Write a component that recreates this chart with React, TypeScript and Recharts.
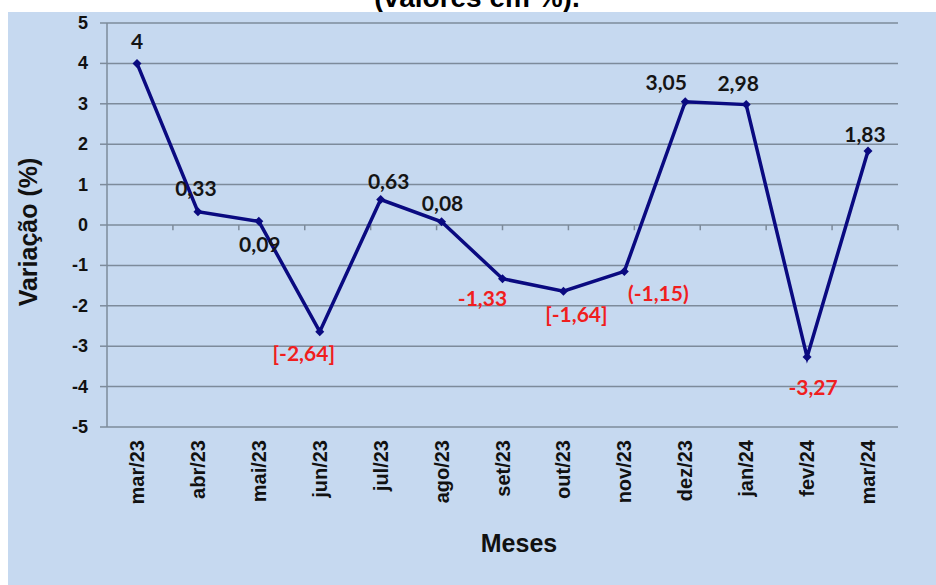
import React from 'react';
import { LineChart, Line, XAxis, YAxis, CartesianGrid, ReferenceLine, Label, LabelList } from 'recharts';

const months = ['mar/23', 'abr/23', 'mai/23', 'jun/23', 'jul/23', 'ago/23', 'set/23', 'out/23', 'nov/23', 'dez/23', 'jan/24', 'fev/24', 'mar/24'];
const values = [4, 0.33, 0.09, -2.64, 0.63, 0.08, -1.33, -1.64, -1.15, 3.05, 2.98, -3.27, 1.83];
const valueLabels = ['4', '0,33', '0,09', '[-2,64]', '0,63', '0,08', '-1,33', '[-1,64]', '(-1,15)', '3,05', '2,98', '-3,27', '1,83'];
const yTicks = [-5, -4, -3, -2, -1, 0, 1, 2, 3, 4, 5];
const boundaries = [1, 2, 3, 4, 5, 6, 7, 8, 9, 10, 11, 12];

// label placement (px offsets from the point)
const labelOffsets: [number, number][] = [
  [0, -23], [-2, -24], [1, 22], [-16, 21], [8, -19], [1, -19], [-20, 19],
  [13, 22], [34, 21], [-19, -20], [-8, -22], [6, 29], [-3, -18],
];

const data = months.map((m, i) => ({ month: m, value: values[i], label: valueLabels[i], idx: i }));

const GRID = '#7d8b9b';
const AXIS_FONT = '"Liberation Sans", Arial, sans-serif';

const Diamond = (props: any) => {
  const { cx, cy } = props;
  if (cx == null || cy == null) return null;
  const r = 4.5;
  return <polygon points={`${cx},${cy - r} ${cx + r},${cy} ${cx},${cy + r} ${cx - r},${cy}`} fill="#0a0a80" />;
};

const XTick = (props: any) => {
  const { x, y, payload } = props;
  const ty = y - 25;
  return (
    <text
      x={x}
      y={ty}
      transform={`rotate(-90, ${x}, ${ty})`}
      textAnchor="end"
      dominantBaseline="central"
      fontFamily={AXIS_FONT}
      fontWeight="bold"
      fontSize={20}
      fill="#111"
    >
      {payload.value}
    </text>
  );
};

const YTick = (props: any) => {
  const { x, y, payload } = props;
  return (
    <text x={x - 10} y={y} textAnchor="end" dominantBaseline="central" fontFamily={AXIS_FONT} fontWeight="bold" fontSize={18} fill="#111">
      {payload.value}
    </text>
  );
};

const renderValueLabel = (props: any) => {
  const { x, y, index, value } = props;
  const off = labelOffsets[index] || [0, -20];
  const neg = values[index] < 0;
  return (
    <text
      x={x + off[0]}
      y={y + off[1]}
      textAnchor="middle"
      dominantBaseline="central"
      fontFamily="Lato, 'Open Sans', sans-serif"
      fontWeight="bold"
      fontSize={21}
      fill={neg ? '#f01e1e' : '#151515'}
    >
      {value}
    </text>
  );
};

export default function App() {
  return (
    <div style={{ position: 'fixed', left: 0, top: 0, width: 936, height: 585, background: '#fff', overflow: 'hidden' }}>
      <div
        style={{
          position: 'absolute',
          left: 0,
          width: 936,
          top: -16,
          textAlign: 'center',
          fontFamily: AXIS_FONT,
          fontWeight: 'bold',
          fontSize: 28,
          lineHeight: '28px',
          color: '#000',
          paddingLeft: 18,
          boxSizing: 'border-box',
        }}
      >
        (valores em %).
      </div>
      <div style={{ position: 'absolute', left: 8, top: 12, width: 928, height: 573, background: '#c6d9f0' }}>
        <LineChart width={928} height={573} data={data} margin={{ top: 11, right: 38, left: 39, bottom: 0 }}>
          <CartesianGrid horizontal vertical={false} stroke={GRID} strokeWidth={1.5} />
          <XAxis
            xAxisId="m"
            dataKey="month"
            type="category"
            axisLine={false}
            tickLine={false}
            height={158}
            tick={<XTick />}
            interval={0}
            padding={{ left: 30, right: 30 }}
          >
            <Label
              content={() => (
                <text x={511} y={531} textAnchor="middle" dominantBaseline="central" fontFamily={AXIS_FONT} fontWeight="bold" fontSize={25} fill="#111">
                  Meses
                </text>
              )}
            />
          </XAxis>
          <XAxis xAxisId="b" type="number" domain={[0, 13]} hide />
          <YAxis
            domain={[-5, 5]}
            ticks={yTicks}
            interval={0}
            width={60}
            axisLine={{ stroke: GRID, strokeWidth: 1.5 }}
            tickLine={{ stroke: GRID, strokeWidth: 1.5 }}
            tickSize={7}
            tick={<YTick />}
          >
            <Label
              content={(p: any) => {
                const vb = p.viewBox;
                const cx = vb.x - 19;
                const cy = vb.y + vb.height / 2 + 7;
                return (
                  <text x={cx} y={cy} transform={`rotate(-90, ${cx}, ${cy})`} textAnchor="middle" dominantBaseline="central" fontFamily={AXIS_FONT} fontWeight="bold" fontSize={25} fill="#111">
                    Variação (%)
                  </text>
                );
              }}
            />
          </YAxis>
          {boundaries.map((b) => (
            <ReferenceLine
              key={b}
              xAxisId="b"
              segment={[{ x: b, y: 0 }, { x: b, y: -0.13 }]}
              stroke={GRID}
              strokeWidth={1.5}
            />
          ))}
          <Line
            xAxisId="m"
            type="linear"
            dataKey="value"
            stroke="#0a0a80"
            strokeWidth={3.5}
            dot={<Diamond />}
            activeDot={false}
            isAnimationActive={false}
          >
            <LabelList dataKey="label" content={renderValueLabel} />
          </Line>
        </LineChart>
      </div>
    </div>
  );
}
